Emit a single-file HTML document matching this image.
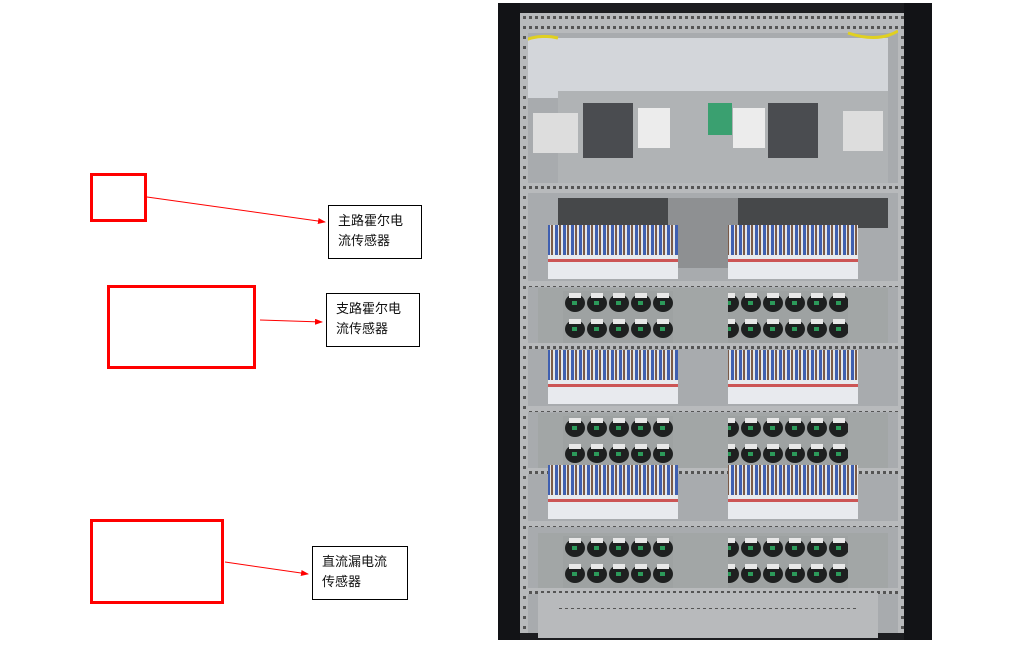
<!DOCTYPE html>
<html><head><meta charset="utf-8"><style>
body{margin:0;width:1011px;height:647px;background:#fff;overflow:hidden;position:relative;font-family:"Liberation Sans","Noto Sans CJK SC",sans-serif;}
.r{position:absolute;border:3px solid #f00;box-sizing:border-box;}
.l{position:absolute;border:1px solid #000;box-sizing:border-box;font-size:13px;line-height:20px;padding:5px 0 0 9px;color:#111;}
svg{position:absolute;left:0;top:0}
</style></head><body>
<div class="r" style="left:90px;top:173px;width:57px;height:49px"></div>
<div class="r" style="left:107px;top:285px;width:149px;height:84px"></div>
<div class="r" style="left:90px;top:519px;width:134px;height:85px"></div>
<div class="l" style="left:328px;top:205px;width:94px;height:54px">主路霍尔电<br>流传感器</div>
<div class="l" style="left:326px;top:293px;width:94px;height:54px">支路霍尔电<br>流传感器</div>
<div class="l" style="left:312px;top:546px;width:96px;height:54px">直流漏电流<br>传感器</div>
<svg width="1011" height="647">
<defs>
<marker id="a" markerWidth="8" markerHeight="6" refX="7" refY="3" orient="auto"><path d="M0,0L8,3L0,6z" fill="#f00"/></marker>
<pattern id="w" width="8" height="30" patternUnits="userSpaceOnUse"><rect width="8" height="30" fill="#e4e6ea"/><rect x="1" width="3" height="30" fill="#3f5fb0"/><rect x="5" width="2" height="30" fill="#7a5a48"/></pattern>
<pattern id="s" width="22" height="26" patternUnits="userSpaceOnUse"><rect width="22" height="26" fill="#9ea2a2"/><ellipse cx="11" cy="14" rx="10" ry="9" fill="#1e2020"/><rect x="5" y="4" width="12" height="5" fill="#e8e8e8"/><rect x="8" y="12" width="5" height="4" fill="#2c9a5a"/></pattern>
<pattern id="rail" width="6" height="10" patternUnits="userSpaceOnUse"><rect width="6" height="10" fill="#b8babc"/><rect x="1" y="3" width="3" height="3" fill="#555"/></pattern>
</defs>
<g stroke="#f00" stroke-width="1">
<line x1="147" y1="197" x2="325" y2="222" marker-end="url(#a)"/>
<line x1="260" y1="320" x2="322" y2="322" marker-end="url(#a)"/>
<line x1="225" y1="562" x2="308" y2="574" marker-end="url(#a)"/>
</g>
<g transform="translate(498,3)">
<rect width="434" height="637" fill="#1c1d20"/>
<rect x="20" y="10" width="380" height="620" fill="#a8abae"/>
<rect x="30" y="35" width="360" height="60" fill="#d3d6da"/>
<rect x="20" y="10" width="380" height="20" fill="url(#rail)"/>
<path d="M20 40 Q40 30 60 35 M400 28 Q380 40 350 30" stroke="#e0d020" stroke-width="3" fill="none"/>
<rect x="60" y="88" width="330" height="95" fill="#b0b3b5"/>
<rect x="85" y="100" width="50" height="55" fill="#4a4c50"/>
<rect x="270" y="100" width="50" height="55" fill="#4a4c50"/>
<rect x="140" y="105" width="32" height="40" fill="#ececec"/>
<rect x="235" y="105" width="32" height="40" fill="#ececec"/>
<rect x="210" y="100" width="24" height="32" fill="#3aa070"/>
<rect x="35" y="110" width="45" height="40" fill="#ddd"/>
<rect x="345" y="108" width="40" height="40" fill="#ddd"/>
<rect x="25" y="180" width="380" height="10" fill="url(#rail)"/>
<rect x="60" y="195" width="330" height="30" fill="#46484a"/>
<rect x="170" y="195" width="70" height="70" fill="#8e9092"/>
<g id="br">
<rect x="50" y="222" width="130" height="30" fill="url(#w)"/>
<rect x="50" y="252" width="130" height="24" fill="#e8eaee"/>
<rect x="50" y="256" width="130" height="3" fill="#c55"/>
<rect x="230" y="222" width="130" height="30" fill="url(#w)"/>
<rect x="230" y="252" width="130" height="24" fill="#e8eaee"/>
<rect x="230" y="256" width="130" height="3" fill="#c55"/>
<rect x="25" y="278" width="380" height="6" fill="url(#rail)"/>
</g>
<g id="sn">
<rect x="40" y="285" width="350" height="55" fill="#a2a6a6"/>
<rect x="65" y="288" width="110" height="52" fill="url(#s)"/>
<rect x="230" y="288" width="120" height="52" fill="url(#s)"/>
<rect x="25" y="340" width="380" height="6" fill="url(#rail)"/>
</g>
<use href="#br" y="125"/><use href="#sn" y="125"/>
<use href="#br" y="240"/><use href="#sn" y="245"/>
<rect x="40" y="590" width="340" height="45" fill="#b8babc"/>
<rect x="60" y="605" width="300" height="8" fill="url(#rail)"/>
<rect x="0" y="0" width="22" height="637" fill="#121316"/>
<rect x="22" y="10" width="8" height="620" fill="url(#rail)"/>
<rect x="400" y="10" width="6" height="620" fill="url(#rail)"/>
<rect x="406" y="0" width="28" height="637" fill="#121316"/>
</g>
</svg>
</body></html>
